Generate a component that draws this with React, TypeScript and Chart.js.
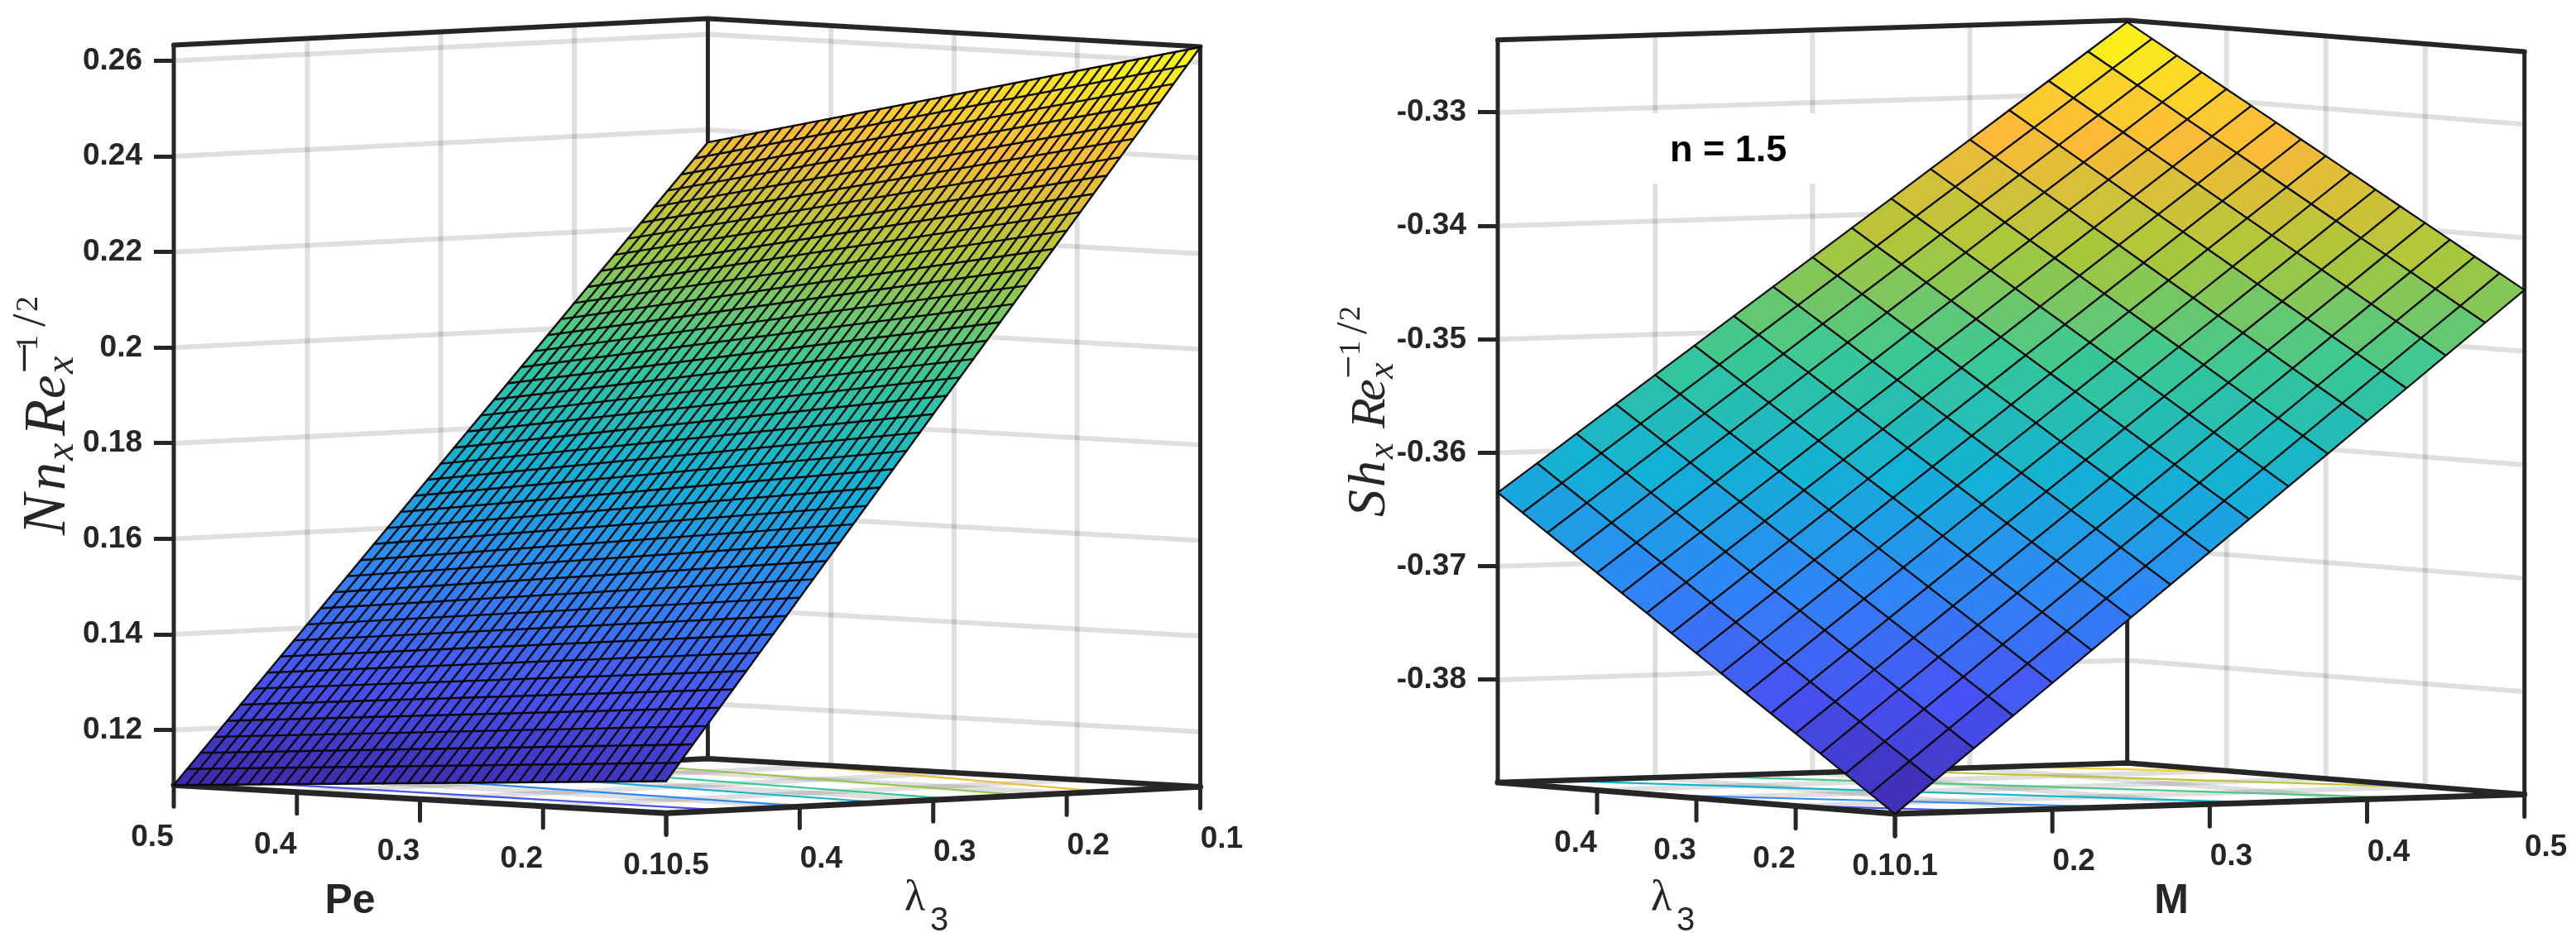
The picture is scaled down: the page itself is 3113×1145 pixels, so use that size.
import { useEffect, useRef } from 'react';
import { Chart, registerables } from 'chart.js';

Chart.register(...registerables);

// ---- left panel data (Nn against Pe and lambda3) ----
const nnZTicks = [0.12, 0.14, 0.16, 0.18, 0.2, 0.22, 0.24, 0.26];
const nnZLabels = ['0.12', '0.14', '0.16', '0.18', '0.2', '0.22', '0.24', '0.26'];
const peTicks = [0.5, 0.4, 0.3, 0.2, 0.1];
const peLabels = ['0.5', '0.4', '0.3', '0.2', '0.1'];
const nnLamTicks = [0.5, 0.4, 0.3, 0.2, 0.1];
const nnLamLabels = ['0.5', '0.4', '0.3', '0.2', '0.1'];
const peMesh = [0.1, 0.11, 0.12, 0.13, 0.14, 0.15, 0.16, 0.17, 0.18, 0.19, 0.2, 0.21, 0.22, 0.23, 0.24, 0.25, 0.26, 0.27, 0.28, 0.29, 0.3, 0.31, 0.32, 0.33, 0.34, 0.35, 0.36, 0.37, 0.38, 0.39, 0.4, 0.41, 0.42, 0.43, 0.44, 0.45, 0.46, 0.47, 0.48, 0.49, 0.5];
const lamMesh = [0.5, 0.49, 0.48, 0.47, 0.46, 0.45, 0.44, 0.43, 0.42, 0.41, 0.4, 0.39, 0.38, 0.37, 0.36, 0.35, 0.34, 0.33, 0.32, 0.31, 0.3, 0.29, 0.28, 0.27, 0.26, 0.25, 0.24, 0.23, 0.22, 0.21, 0.2, 0.19, 0.18, 0.17, 0.16, 0.15, 0.14, 0.13, 0.12, 0.11, 0.1];
// surface height along its four edges, each mesh line runs straight between two of them
const nnAtLam05 = [0.1152, 0.11503, 0.11487, 0.1147, 0.11453, 0.11436, 0.1142, 0.11403, 0.11386, 0.11369, 0.11353, 0.11336, 0.11319, 0.11302, 0.11286, 0.11269, 0.11252, 0.11235, 0.11219, 0.11202, 0.11185, 0.11168, 0.11152, 0.11135, 0.11118, 0.11101, 0.11085, 0.11068, 0.11051, 0.11034, 0.11018, 0.11001, 0.10984, 0.10967, 0.10951, 0.10934, 0.10917, 0.109, 0.10884, 0.10867, 0.1085];
const nnAtLam01 = [0.2632, 0.26256, 0.26191, 0.26127, 0.26062, 0.25998, 0.25933, 0.25869, 0.25804, 0.2574, 0.25675, 0.25611, 0.25546, 0.25482, 0.25417, 0.25353, 0.25288, 0.25224, 0.25159, 0.25095, 0.2503, 0.24966, 0.24901, 0.24837, 0.24772, 0.24708, 0.24643, 0.24579, 0.24514, 0.2445, 0.24385, 0.24321, 0.24256, 0.24192, 0.24127, 0.24063, 0.23998, 0.23934, 0.23869, 0.23805, 0.2374];
const nnAtPe01 = [0.1152, 0.1189, 0.1226, 0.1263, 0.13, 0.1337, 0.1374, 0.1411, 0.1448, 0.1485, 0.1522, 0.1559, 0.1596, 0.1633, 0.167, 0.1707, 0.1744, 0.1781, 0.1818, 0.1855, 0.1892, 0.1929, 0.1966, 0.2003, 0.204, 0.2077, 0.2114, 0.2151, 0.2188, 0.2225, 0.2262, 0.2299, 0.2336, 0.2373, 0.241, 0.2447, 0.2484, 0.2521, 0.2558, 0.2595, 0.2632];
const nnAtPe05 = [0.1085, 0.11172, 0.11495, 0.11817, 0.12139, 0.12461, 0.12784, 0.13106, 0.13428, 0.1375, 0.14073, 0.14395, 0.14717, 0.15039, 0.15362, 0.15684, 0.16006, 0.16328, 0.16651, 0.16973, 0.17295, 0.17617, 0.1794, 0.18262, 0.18584, 0.18906, 0.19229, 0.19551, 0.19873, 0.20195, 0.20518, 0.2084, 0.21162, 0.21484, 0.21807, 0.22129, 0.22451, 0.22773, 0.23096, 0.23418, 0.2374];
// floor contours: [Pe start, lambda start, Pe end, lambda end, level]
const nnContours = [
  [0.5, 0.452, 0.1, 0.457, 0.131],
  [0.5, 0.36, 0.1, 0.396, 0.154],
  [0.5, 0.294, 0.1, 0.339, 0.175],
  [0.5, 0.232, 0.1, 0.285, 0.195],
  [0.5, 0.17, 0.1, 0.231, 0.215],
  [0.458, 0.1, 0.1, 0.174, 0.236],
  [0.145, 0.1, 0.1, 0.119, 0.256],
];

// ---- right panel data (Sh against lambda3 and M) ----
const shZTicks = [-0.38, -0.37, -0.36, -0.35, -0.34, -0.33];
const shZLabels = ['-0.38', '-0.37', '-0.36', '-0.35', '-0.34', '-0.33'];
const shLamTicks = [0.4, 0.3, 0.2, 0.1];
const shLamLabels = ['0.4', '0.3', '0.2', '0.1'];
const mTicks = [0.1, 0.2, 0.3, 0.4, 0.5];
const mLabels = ['0.1', '0.2', '0.3', '0.4', '0.5'];
const shLamMesh = [0.1, 0.125, 0.15, 0.175, 0.2, 0.225, 0.25, 0.275, 0.3, 0.325, 0.35, 0.375, 0.4, 0.425, 0.45, 0.475, 0.5];
const mMesh = [0.1, 0.125, 0.15, 0.175, 0.2, 0.225, 0.25, 0.275, 0.3, 0.325, 0.35, 0.375, 0.4, 0.425, 0.45, 0.475, 0.5];
// one row per lambda3 mesh value, one column per M mesh value
const shSurface = [
  [-0.38905, -0.38627, -0.38349, -0.38072, -0.37794, -0.37516, -0.37238, -0.3696, -0.36683, -0.36405, -0.36127, -0.35849, -0.35571, -0.35294, -0.35016, -0.34738, -0.3446],
  [-0.38745, -0.38469, -0.38193, -0.37917, -0.37641, -0.37365, -0.37089, -0.36813, -0.36537, -0.36261, -0.35985, -0.35709, -0.35433, -0.35157, -0.34881, -0.34606, -0.3433],
  [-0.38586, -0.38312, -0.38038, -0.37764, -0.37489, -0.37215, -0.36941, -0.36667, -0.36393, -0.36119, -0.35845, -0.3557, -0.35296, -0.35022, -0.34748, -0.34474, -0.342],
  [-0.38426, -0.38154, -0.37881, -0.37609, -0.37337, -0.37065, -0.36792, -0.3652, -0.36248, -0.35975, -0.35703, -0.35431, -0.35159, -0.34886, -0.34614, -0.34342, -0.34069],
  [-0.38266, -0.37996, -0.37725, -0.37455, -0.37184, -0.36914, -0.36643, -0.36373, -0.36102, -0.35832, -0.35561, -0.35291, -0.3502, -0.3475, -0.3448, -0.34209, -0.33939],
  [-0.38107, -0.37838, -0.3757, -0.37301, -0.37032, -0.36764, -0.36495, -0.36227, -0.35958, -0.35689, -0.35421, -0.35152, -0.34883, -0.34615, -0.34346, -0.34078, -0.33809],
  [-0.37947, -0.3768, -0.37413, -0.37147, -0.3688, -0.36613, -0.36346, -0.3608, -0.35813, -0.35546, -0.35279, -0.35012, -0.34746, -0.34479, -0.34212, -0.33945, -0.33679],
  [-0.37787, -0.37522, -0.37257, -0.36992, -0.36727, -0.36462, -0.36197, -0.35932, -0.35667, -0.35402, -0.35138, -0.34873, -0.34608, -0.34343, -0.34078, -0.33813, -0.33548],
  [-0.37628, -0.37365, -0.37102, -0.36839, -0.36575, -0.36312, -0.36049, -0.35786, -0.35523, -0.3526, -0.34997, -0.34734, -0.34471, -0.34207, -0.33944, -0.33681, -0.33418],
  [-0.37468, -0.37207, -0.36945, -0.36684, -0.36423, -0.36162, -0.359, -0.35639, -0.35378, -0.35116, -0.34855, -0.34594, -0.34333, -0.34071, -0.3381, -0.33549, -0.33288],
  [-0.37308, -0.37049, -0.36789, -0.3653, -0.3627, -0.36011, -0.35751, -0.35492, -0.35233, -0.34973, -0.34714, -0.34454, -0.34195, -0.33935, -0.33676, -0.33416, -0.33157],
  [-0.37149, -0.36891, -0.36634, -0.36376, -0.36119, -0.35861, -0.35603, -0.35346, -0.35088, -0.34831, -0.34573, -0.34315, -0.34058, -0.338, -0.33543, -0.33285, -0.33027],
  [-0.36989, -0.36733, -0.36477, -0.36222, -0.35966, -0.3571, -0.35454, -0.35199, -0.34943, -0.34687, -0.34431, -0.34176, -0.3392, -0.33664, -0.33408, -0.33153, -0.32897],
  [-0.36829, -0.36575, -0.36321, -0.36067, -0.35813, -0.35559, -0.35305, -0.35051, -0.34797, -0.34544, -0.3429, -0.34036, -0.33782, -0.33528, -0.33274, -0.3302, -0.32766],
  [-0.36669, -0.36417, -0.36165, -0.35913, -0.35661, -0.35409, -0.35157, -0.34904, -0.34652, -0.344, -0.34148, -0.33896, -0.33644, -0.33392, -0.3314, -0.32888, -0.32636],
  [-0.3651, -0.3626, -0.36009, -0.35759, -0.35509, -0.35259, -0.35008, -0.34758, -0.34508, -0.34258, -0.34007, -0.33757, -0.33507, -0.33257, -0.33006, -0.32756, -0.32506],
  [-0.3635, -0.36102, -0.35853, -0.35605, -0.35356, -0.35108, -0.34859, -0.34611, -0.34363, -0.34114, -0.33866, -0.33617, -0.33369, -0.3312, -0.32872, -0.32624, -0.32375],
];
// floor contours: [lambda start, M start, lambda end, M end, level]
const shContours = [
  [0.208, 0.1, 0.1, 0.157, -0.38],
  [0.343, 0.1, 0.1, 0.241, -0.37],
  [0.5, 0.137, 0.1, 0.331, -0.36],
  [0.5, 0.23, 0.1, 0.427, -0.35],
  [0.5, 0.344, 0.187, 0.5, -0.34],
  [0.5, 0.431, 0.378, 0.5, -0.33],
];

const parula = [
  [62, 38, 168],
  [72, 82, 244],
  [46, 135, 247],
  [18, 177, 214],
  [55, 200, 151],
  [171, 199, 57],
  [254, 186, 56],
  [249, 251, 21],
];

const INK = '#262626';
const MESH = '#0a0a0a';
const GRID = 'rgba(0,0,0,0.125)';
const SANS = '"Liberation Sans"';
const SERIF = '"Liberation Serif"';

function parulaAt(t: number) {
  const f = Math.min(Math.max(t, 0), 1) * (parula.length - 1);
  const i = Math.min(Math.floor(f), parula.length - 2);
  const c = parula[i].map((v, k) => Math.round(v + (parula[i + 1][k] - v) * (f - i)));
  return `rgb(${c[0]},${c[1]},${c[2]})`;
}

// how the 3D box lies on the flat chart (orthographic view of the picture)
interface View {
  aFront: number;
  aLeft: number;
  bFront: number;
  bRight: number;
  hFront: number;
  riseLeft: number;
  riseRight: number;
  zFloor: number;
  zTop: number;
  zMin: number;
  zMax: number;
  tickDrop: number;
  tickPadPx: number;
}

const project = (view: View, a: number, b: number, z: number) => {
  const u = (a - view.aFront) / (view.aLeft - view.aFront);
  const v = (b - view.bFront) / (view.bRight - view.bFront);
  return {
    x: view.hFront * (1 - u) + (1 - view.hFront) * v,
    y: z + view.riseLeft * (u - 1) + view.riseRight * v,
  };
};

const line = (data: { x: number; y: number }[], color: string, width: number) => ({
  data,
  showLine: true,
  pointRadius: 0,
  borderColor: color,
  borderWidth: width,
  fill: false,
  clip: false,
  tension: 0,
  borderCapStyle: 'round',
});

// box edges, wall and floor grid, floor ticks: everything behind the surface
function boxDatasets(view: View, zTicks: number[], aTicks: number[], bTicks: number[], contours: number[][], zRange: number[]) {
  const { aFront: aF, aLeft: aL, bFront: bF, bRight: bR, zFloor: f, zTop: t } = view;
  const out: any[] = [];
  // frame
  out.push(line([project(view, aL, bF, f), project(view, aF, bF, f), project(view, aF, bR, f)], INK, 7));
  out.push(line([project(view, aL, bF, f), project(view, aL, bR, f), project(view, aF, bR, f)], INK, 6.5));
  out.push(line([project(view, aL, bF, t), project(view, aL, bR, t), project(view, aF, bR, t)], INK, 6));
  out.push(line([project(view, aL, bF, f), project(view, aL, bF, t)], INK, 5));
  out.push(line([project(view, aL, bR, f), project(view, aL, bR, t)], INK, 5));
  out.push(line([project(view, aF, bR, f), project(view, aF, bR, t)], INK, 5));
  // contours sit above the floor grid
  contours.forEach((c) => {
    const color = parulaAt((c[4] - zRange[0]) / (zRange[1] - zRange[0]));
    out.push(line([project(view, c[0], c[1], f), project(view, c[2], c[3], f)], color, 2.2));
  });
  // floor ticks
  aTicks.forEach((a) => {
    out.push(line([project(view, a, bF, f), project(view, a, bF, f - view.tickDrop)], INK, 5));
  });
  bTicks.forEach((b) => {
    out.push(line([project(view, aF, b, f), project(view, aF, b, f - view.tickDrop)], INK, 5));
  });
  // grid
  zTicks.forEach((z) => {
    out.push(line([project(view, aL, bF, z), project(view, aL, bR, z), project(view, aF, bR, z)], GRID, 6));
  });
  aTicks.filter((a) => a !== aL && a !== aF).forEach((a) => {
    out.push(line([project(view, a, bR, f), project(view, a, bR, t)], GRID, 6));
    out.push(line([project(view, a, bF, f), project(view, a, bR, f)], GRID, 6));
  });
  bTicks.filter((b) => b !== bF && b !== bR).forEach((b) => {
    out.push(line([project(view, aL, b, f), project(view, aL, b, t)], GRID, 6));
    out.push(line([project(view, aF, b, f), project(view, aL, b, f)], GRID, 6));
  });
  return out;
}

// ---- text in the canvas ----
type Piece = [string, number, number, string];

function drawTitle(ctx: CanvasRenderingContext2D, x: number, y: number, pieces: Piece[]) {
  ctx.save();
  ctx.translate(x, y);
  ctx.rotate(-Math.PI / 2);
  ctx.fillStyle = INK;
  ctx.textAlign = 'left';
  ctx.textBaseline = 'alphabetic';
  pieces.forEach(([text, along, across, font]) => {
    ctx.font = font;
    ctx.fillText(text, along, across);
  });
  ctx.restore();
}

const nnTitle: Piece[] = [
  ['N', 0, 0, `italic 74px ${SERIF}`],
  ['n', 54, 0, `italic 68px ${SERIF}`],
  ['x', 90, 10, `italic 48px ${SERIF}`],
  ['R', 120, 0, `italic 72px ${SERIF}`],
  ['e', 165, 0, `italic 64px ${SERIF}`],
  ['x', 195, 10, `italic 48px ${SERIF}`],
  ['\u2212', 195, -26, `68px ${SERIF}`],
  ['1', 223, -33, `38px ${SERIF}`],
  ['/', 252, -24, `56px ${SERIF}`],
  ['2', 270, -33, `38px ${SERIF}`],
];

const shTitle: Piece[] = [
  ['S', 0, 0, `italic 66px ${SERIF}`],
  ['h', 36, 0, `italic 64px ${SERIF}`],
  ['x', 70, 10, `italic 44px ${SERIF}`],
  ['R', 107, 0, `italic 60px ${SERIF}`],
  ['e', 140, 0, `italic 60px ${SERIF}`],
  ['x', 167, 10, `italic 44px ${SERIF}`],
  ['\u2212', 167, -27, `50px ${SERIF}`],
  ['1', 195, -30, `36px ${SERIF}`],
  ['/', 221, -22, `52px ${SERIF}`],
  ['2', 237, -30, `36px ${SERIF}`],
];

interface PanelText {
  view: View;
  aTicks: number[];
  aLabels: string[];
  bTicks: number[];
  bLabels: string[];
  title: Piece[];
  titleX: number;
  titleY: number;
  lamX: number;
  nameText: string;
  nameX: number;
  note?: boolean;
}

const textPlugin = (p: PanelText) => ({
  id: 'panelText',
  afterDatasetsDraw(chart: any) {
    const { ctx, scales } = chart;
    const { view } = p;
    const put = (pos: { x: number; y: number }, text: string, dx: number) => {
      ctx.fillText(text, scales.x.getPixelForValue(pos.x) + dx, scales.y.getPixelForValue(pos.y) + p.view.tickPadPx);
    };
    ctx.save();
    ctx.fillStyle = INK;
    ctx.textAlign = 'center';
    ctx.textBaseline = 'middle';
    ctx.font = `bold 37px ${SANS}`;
    p.aTicks.forEach((a, i) => put(project(view, a, view.bFront, view.zFloor), p.aLabels[i], -26));
    p.bTicks.forEach((b, i) => put(project(view, view.aFront, b, view.zFloor), p.bLabels[i], 26));
    // axis names
    ctx.textBaseline = 'alphabetic';
    ctx.font = `bold 50px ${SANS}`;
    ctx.fillText(p.nameText, p.nameX, 1104);
    ctx.textAlign = 'left';
    ctx.font = `52px ${SERIF}`;
    ctx.fillText('\u03bb', p.lamX, 1100);
    ctx.font = `40px ${SANS}`;
    ctx.fillText('3', p.lamX + 31, 1125);
    if (p.note) {
      ctx.fillStyle = '#ffffff';
      ctx.fillRect(435, 137, 200, 85);
      ctx.fillStyle = '#000000';
      ctx.font = `bold 45px ${SANS}`;
      ctx.fillText('n = 1.5', 458, 195);
    }
    ctx.restore();
    drawTitle(ctx, p.titleX, p.titleY, p.title);
  },
});

function chartConfig(view: View, xMax: number, axisWidth: number, zTicks: number[], zLabels: string[], datasets: any[], plugin: any) {
  return {
    type: 'scatter',
    data: { datasets },
    plugins: [plugin],
    options: {
      animation: false,
      responsive: false,
      devicePixelRatio: 1,
      events: [],
      layout: { autoPadding: false, padding: 0 },
      plugins: { legend: { display: false }, tooltip: { enabled: false }, title: { display: false } },
      scales: {
        x: { type: 'linear', display: false, min: 0, max: xMax },
        y: {
          type: 'linear',
          min: view.zMin,
          max: view.zMax,
          afterBuildTicks: (scale: any) => {
            scale.ticks = zTicks.map((value) => ({ value }));
          },
          afterFit: (scale: any) => {
            scale.width = axisWidth;
            // the tick labels all lie inside the plot, no room needed above or below
            scale.paddingTop = 0;
            scale.paddingBottom = 0;
          },
          border: { display: false },
          grid: { drawOnChartArea: false, tickLength: 24, tickWidth: 5, tickColor: INK },
          ticks: {
            autoSkip: false,
            maxRotation: 0,
            padding: 14,
            color: INK,
            font: { family: 'Liberation Sans', size: 37, weight: 'bold' },
            callback: (_v: number, i: number) => zLabels[i],
          },
        },
      },
    },
  };
}

function nnConfig() {
  const view: View = {
    aFront: 0.1, aLeft: 0.5, bFront: 0.5, bRight: 0.1,
    hFront: 0.4797, riseLeft: 0.00588, riseRight: 0.00554,
    zFloor: 0.1085, zTop: 0.2633, zMin: 0.07462, zMax: 0.27272,
    tickDrop: 0.0045, tickPadPx: 64,
  };
  const zRange = [0.1085, 0.2632];
  const colorOf = (z: number) => parulaAt((z - zRange[0]) / (zRange[1] - zRange[0]));
  const mesh: any[] = [];
  peMesh.forEach((pe, i) => {
    mesh.push(line([project(view, pe, 0.5, nnAtLam05[i]), project(view, pe, 0.1, nnAtLam01[i])], MESH, 2.4));
  });
  lamMesh.forEach((lam, j) => {
    mesh.push(line([project(view, 0.5, lam, nnAtPe05[j]), project(view, 0.1, lam, nnAtPe01[j])], MESH, 2.4));
  });
  const strips: any[] = [];
  for (let j = 0; j < lamMesh.length - 1; j++) {
    const zLeft = (nnAtPe05[j] + nnAtPe05[j + 1]) / 2;
    const zRight = (nnAtPe01[j] + nnAtPe01[j + 1]) / 2;
    const start = project(view, 0.5, lamMesh[j], nnAtPe05[j]);
    const end = project(view, 0.1, lamMesh[j], nnAtPe01[j]);
    strips.push({
      data: [
        start,
        end,
        project(view, 0.1, lamMesh[j + 1], nnAtPe01[j + 1]),
        project(view, 0.5, lamMesh[j + 1], nnAtPe05[j + 1]),
        start,
      ],
      showLine: true,
      pointRadius: 0,
      borderWidth: 0,
      clip: false,
      tension: 0,
      fill: 'shape',
      backgroundColor: (ctx: any) => {
        const { x, y } = ctx.chart.scales;
        const ends = [x.getPixelForValue(start.x), y.getPixelForValue(start.y), x.getPixelForValue(end.x), y.getPixelForValue(end.y)];
        // the scales have no pixels yet on the first pass
        if (!ends.every(Number.isFinite)) return colorOf(zLeft);
        const g = ctx.chart.ctx.createLinearGradient(ends[0], ends[1], ends[2], ends[3]);
        [0, 0.25, 0.5, 0.75, 1].forEach((k) => g.addColorStop(k, colorOf(zLeft + (zRight - zLeft) * k)));
        return g;
      },
    });
  }
  const datasets = [...mesh, ...strips, ...boxDatasets(view, nnZTicks, peTicks, nnLamTicks, nnContours, zRange)];
  const plugin = textPlugin({
    view, aTicks: peTicks, aLabels: peLabels, bTicks: nnLamTicks, bLabels: nnLamLabels,
    title: nnTitle, titleX: 78, titleY: 647, lamX: 1093, nameText: 'Pe', nameX: 423,
  });
  return chartConfig(view, 1.0883, 210, nnZTicks, nnZLabels, datasets, plugin);
}

function shConfig() {
  const view: View = {
    aFront: 0.1, aLeft: 0.5, bFront: 0.1, bRight: 0.5,
    hFront: 0.3869, riseLeft: 0.00277, riseRight: 0.00172,
    zFloor: -0.38905, zTop: -0.3236, zMin: -0.40355, zMax: -0.32009,
    tickDrop: 0.00197, tickPadPx: 64,
  };
  const zRange = [-0.38905, -0.32375];
  const cells: any[] = [];
  for (let i = 0; i < shLamMesh.length - 1; i++) {
    for (let j = 0; j < mMesh.length - 1; j++) {
      const z = [shSurface[i][j], shSurface[i][j + 1], shSurface[i + 1][j + 1], shSurface[i + 1][j]];
      const first = project(view, shLamMesh[i], mMesh[j], z[0]);
      cells.push({
        data: [
          first,
          project(view, shLamMesh[i], mMesh[j + 1], z[1]),
          project(view, shLamMesh[i + 1], mMesh[j + 1], z[2]),
          project(view, shLamMesh[i + 1], mMesh[j], z[3]),
          first,
        ],
        showLine: true,
        pointRadius: 0,
        borderWidth: 2.2,
        borderColor: MESH,
        borderJoinStyle: 'round',
        clip: false,
        tension: 0,
        fill: 'shape',
        backgroundColor: parulaAt(((z[0] + z[1] + z[2] + z[3]) / 4 - zRange[0]) / (zRange[1] - zRange[0])),
      });
    }
  }
  const datasets = [...cells, ...boxDatasets(view, shZTicks, shLamTicks, mTicks, shContours, zRange)];
  const plugin = textPlugin({
    view, aTicks: shLamTicks, aLabels: shLamLabels, bTicks: mTicks, bLabels: mLabels,
    title: shTitle, titleX: 113, titleY: 625, lamX: 435, nameText: 'M', nameX: 1064, note: true,
  });
  return chartConfig(view, 1.0502, 250, shZTicks, shZLabels, datasets, plugin);
}

function Panel({ left, width, config }: { left: number; width: number; config: () => any }) {
  const ref = useRef<HTMLCanvasElement>(null);
  useEffect(() => {
    if (!ref.current) return;
    const chart = new Chart(ref.current, config());
    return () => chart.destroy();
  }, [config]);
  return <canvas ref={ref} width={width} height={1145} style={{ position: 'absolute', left, top: 0 }} />;
}

export default function App() {
  return (
    <div style={{ position: 'absolute', left: 0, top: 0, width: 3113, height: 1145, background: '#fff', overflow: 'hidden' }}>
      <Panel left={0} width={1560} config={nnConfig} />
      <Panel left={1560} width={1553} config={shConfig} />
    </div>
  );
}
